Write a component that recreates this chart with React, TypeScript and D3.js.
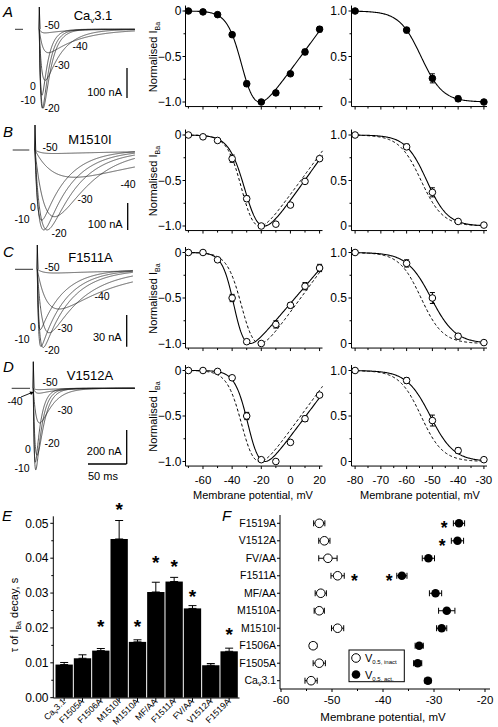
import React from "react";
import * as d3 from "d3";

// ================= DATA =================
// Panels A-D, I-V relations (normalised I_Ba)
const ivV = [-70, -60, -50, -40, -30, -20, -10, 0, 10, 20];
const ivCaV31 = [0, -0.01, -0.04, -0.26, -0.8, -1.0, -0.9, -0.69, -0.45, -0.2];
const ivCaV31Err = [0, 0, 0.01, 0.02, 0.03, 0, 0.02, 0.02, 0.03, 0.03];
const ivM1510I = [0, -0.02, -0.06, -0.26, -0.7, -1.0, -0.98, -0.77, -0.51, -0.26];
const ivM1510IErr = [0, 0, 0.01, 0.04, 0.03, 0, 0.01, 0.01, 0.02, 0.02];
const ivF1511A = [0, 0, -0.08, -0.5, -0.98, -1.0, -0.79, -0.58, -0.37, -0.17];
const ivF1511AErr = [0, 0, 0.01, 0.04, 0.02, 0.01, 0.04, 0.03, 0.04, 0.04];
const ivV1512A = [0, 0, -0.01, -0.08, -0.5, -0.98, -1.0, -0.79, -0.53, -0.27];
const ivV1512AErr = [0, 0, 0.01, 0.02, 0.04, 0.02, 0.02, 0.02, 0.03, 0.02];

// steady-state inactivation
const inV = [-80, -60, -50, -40, -30];
const inCaV31 = [1, 0.79, 0.26, 0.035, 0.0];
const inCaV31Err = [0, 0.03, 0.05, 0.03, 0.01];
const inM1510I = [1, 0.87, 0.37, 0.05, 0.01];
const inM1510IErr = [0, 0.03, 0.05, 0.02, 0.01];
const inF1511A = [1, 0.88, 0.5, 0.08, 0.01];
const inF1511AErr = [0, 0.04, 0.06, 0.03, 0.01];
const inV1512A = [1, 0.89, 0.45, 0.12, 0.02];
const inV1512AErr = [0, 0.03, 0.06, 0.03, 0.01];

// Boltzmann fit parameters [CaV3.1, M1510I, F1511A, V1512A]
const actVhalf = [-32, -29.5, -38, -28];
const actSlope = [5, 5.5, 4, 4.5];
const actErev = [30, 32, 30, 34];
const inactVhalf = [-54.4, -52.2, -50.5, -50.8];
const inactSlope = [4.22, 4.11, 4.7, 4.6];

// Current traces: test potentials, peak amplitude (nA), activation & decay time constants (ms)
const traceV = ["-50", "-40", "-30", "-20", "-10", "0"];
const trAmpCaV31 = [12, 78, 170, 263, 263, 220];
const trRiseCaV31 = [3, 5, 3.5, 2.8, 2.1, 1.8];
const trDecayCaV31 = [30, 40, 22, 10, 9, 8];
const trAmpM1510I = [13, 101, 247, 296, 296, 260];
const trRiseM1510I = [8, 30, 17, 8, 5, 3.5];
const trDecayM1510I = [150, 100, 40, 38, 35, 32];
const trAmpF1511A = [3.5, 37.6, 60, 74, 73, 57];
const trRiseF1511A = [8, 14, 7, 2.8, 1.5, 1.2];
const trDecayF1511A = [120, 70, 45, 35, 32, 30];
const trAmpV1512A = [8, 29, 204, 394, 480, 435];
const trRiseV1512A = [3, 3, 5, 3, 1.6, 1.3];
const trDecayV1512A = [30, 25, 15, 9, 8, 7];
const scaleBarNA = [100, 100, 30, 200];
const scaleBarMs = 50;

// Panel E: tau of I_Ba decay
const mutants = ["CaV3.1", "F1505A", "F1506A", "M1510I", "M1510A", "MF/AA", "F1511A", "FV/AA", "V1512A", "F1519A"];
const tauDecay = [0.0095, 0.0113, 0.0135, 0.0455, 0.016, 0.0303, 0.0333, 0.0256, 0.0093, 0.0133];
const tauErr = [0.0006, 0.001, 0.0006, 0.0053, 0.0006, 0.0028, 0.0012, 0.0008, 0.0005, 0.0009];
const tauStar = [null, null, 0.0216, 0.0553, 0.0216, 0.04, 0.039, 0.0304, null, 0.0194];

// Panel F: V0.5 (mV), same order as mutants (bottom to top)
const vInact = [-54.1, -52.5, -53.7, -48.9, -52.5, -52.2, -48.9, -50.8, -51.5, -52.5];
const vInactErr = [1.2, 1.2, 0.7, 1.2, 1.0, 1.1, 1.3, 1.8, 1.1, 1.1];
const vAct = [-31.2, -33.2, -32.9, -28.5, -27.5, -29.7, -36.3, -31.1, -25.4, -25.1];
const vActErr = [0.6, 0.8, 0.8, 1.0, 1.6, 1.2, 1.0, 1.2, 1.2, 1.1];
const fStarCat = ["F1519A", "V1512A", "F1511A", "F1511A"];
const fStarV = [-28.0, -28.4, -45.6, -38.8];

// ================= LAYOUT / STYLE =================
const FONT = "'Liberation Sans', Arial, Helvetica, sans-serif";
const ROW_Y0 = [11, 135, 252.5, 370.5];
const ivData = [ivCaV31, ivM1510I, ivF1511A, ivV1512A];
const ivErrs = [ivCaV31Err, ivM1510IErr, ivF1511AErr, ivV1512AErr];
const inData = [inCaV31, inM1510I, inF1511A, inV1512A];
const inErrs = [inCaV31Err, inM1510IErr, inF1511AErr, inV1512AErr];
const trAmps = [trAmpCaV31, trAmpM1510I, trAmpF1511A, trAmpV1512A];
const trRises = [trRiseCaV31, trRiseM1510I, trRiseF1511A, trRiseV1512A];
const trDecays = [trDecayCaV31, trDecayM1510I, trDecayF1511A, trDecayV1512A];

const TRACE_LAYOUT = [
  { base: 29.3, spikeX: 39.3, spikeTop: 7, dash: [15, 23], barX: 127, barTop: 68, barBottom: 98, end: 135, barText: 96 },
  { base: 150, spikeX: 35, spikeTop: 125, dash: [12.7, 29.3], barX: 127.7, barTop: 203, barBottom: 230, end: 135, barText: 228 },
  { base: 269.3, spikeX: 37.3, spikeTop: 245, dash: [15, 33], barX: 126.7, barTop: 315, barBottom: 346.7, end: 133, barText: 341 },
  { base: 388.3, spikeX: 33.3, spikeTop: 361.7, dash: [11.7, 30], barX: 126.7, barTop: 430, barBottom: 464, end: 135, barText: 455 },
];
const TRACE_LABEL_POS = [
  [[52, 25], [80, 46], [62, 65], [52, 108], [28, 100], [33, 86]],
  [[50, 147], [128, 184], [85, 199], [59, 233], [22, 219], [33, 207]],
  [[52, 267], [102, 296], [65, 328], [52, 350], [22, 339], [33, 327]],
  [[50, 382], [15, 401], [65, 410], [52, 443], [22, 468], [28, 449]],
];
const TITLE_POS = [[93, 19.5], [90, 143.8], [90.5, 261.5], [90, 379.5]];
const LETTER_Y = [17, 137, 257, 372];
const LETTERS = ["A", "B", "C", "D"];

const line = d3.line<[number, number]>().x((d) => d[0]).y((d) => d[1]);

function ivRaw(i: number, v: number) {
  const g = 1 / (1 + Math.exp((actVhalf[i] - v) / actSlope[i]));
  return (v - actErev[i]) * g;
}
function ivFitFn(i: number) {
  const g = d3.range(-80, 30, 0.1);
  const mn = d3.min(g, (v) => ivRaw(i, v)) as number;
  return (v: number) => ivRaw(i, v) / Math.abs(mn);
}
function inFitFn(i: number) {
  return (v: number) => 1 / (1 + Math.exp((v - inactVhalf[i]) / inactSlope[i]));
}

function Title({ i }: { i: number }) {
  const [x, y] = TITLE_POS[i];
  if (i === 0)
    return (
      <text x={x} y={y} textAnchor="middle" fontSize={13}>
        Ca<tspan dy={3} fontSize={8}>v</tspan>
        <tspan dy={-3}>3.1</tspan>
      </text>
    );
  return (
    <text x={x} y={y} textAnchor="middle" fontSize={13}>
      {["", "M1510I", "F1511A", "V1512A"][i]}
    </text>
  );
}

function Traces({ r }: { r: number }) {
  const L = TRACE_LAYOUT[r];
  const tx = d3.scaleLinear().domain([0, scaleBarMs]).range([L.spikeX, L.spikeX + 38.5]);
  const cy = d3.scaleLinear().domain([0, -scaleBarNA[r]]).range([L.base, L.base + (L.barBottom - L.barTop)]);
  const tEnd = tx.invert(L.end);
  const ts = d3.range(0.3, tEnd, 0.2);
  const paths = traceV.map((_, k) => {
    const tr = trRises[r][k], th = trDecays[r][k], amp = trAmps[r][k];
    const tp = (Math.log(th / tr) * th * tr) / (th - tr);
    const fmax = Math.exp(-tp / th) - Math.exp(-tp / tr);
    const pts: [number, number][] = ts.map((t) => [tx(t), cy((-amp * (Math.exp(-t / th) - Math.exp(-t / tr))) / fmax)]);
    return line([[L.spikeX, L.base], ...pts]) as string;
  });
  return (
    <g>
      <line x1={L.dash[0]} x2={L.dash[1]} y1={L.base} y2={L.base} stroke="#333" strokeWidth={1} />
      <path d={`M${L.spikeX - 0.4},${L.base} L${L.spikeX},${L.spikeTop} L${L.spikeX + 0.7},${L.base}`} stroke="#111" strokeWidth={1} fill="none" />
      {paths.map((d, k) => (
        <path key={k} d={d} fill="none" stroke="#222" strokeWidth={0.75} />
      ))}
      {traceV.map((lab, k) => (
        <text key={k} x={TRACE_LABEL_POS[r][k][0]} y={TRACE_LABEL_POS[r][k][1]} dy="0.35em" textAnchor="middle" fontSize={10.5}>
          {lab}
        </text>
      ))}
      <line x1={L.barX} x2={L.barX} y1={L.barTop} y2={L.barBottom} stroke="#000" strokeWidth={1.3} />
      <text x={L.barX - 5} y={L.barText} textAnchor="end" fontSize={11}>
        {scaleBarNA[r]} nA
      </text>
      {r === 3 && (
        <g>
          <line x1={tx(0) + (88 - L.spikeX)} x2={tx(scaleBarMs) + (88 - L.spikeX)} y1={L.barBottom} y2={L.barBottom} stroke="#000" strokeWidth={1.3} />
          <text x={88} y={480} fontSize={11}>
            {scaleBarMs} ms
          </text>
          <line x1={21} x2={32} y1={397} y2={392.5} stroke="#000" strokeWidth={0.9} />
          <path d="M34,392 L29.5,391.5 L31,395 Z" fill="#000" />
        </g>
      )}
    </g>
  );
}

function ErrBar({ x, y1, y2, w, horizontal }: { x: number; y1: number; y2: number; w: number; horizontal?: boolean }) {
  if (horizontal) {
    return (
      <g stroke="#000" strokeWidth={1}>
        <line x1={y1} x2={y2} y1={x} y2={x} />
        <line x1={y1} x2={y1} y1={x - w} y2={x + w} />
        <line x1={y2} x2={y2} y1={x - w} y2={x + w} />
      </g>
    );
  }
  return (
    <g stroke="#000" strokeWidth={1}>
      <line x1={x} x2={x} y1={y1} y2={y2} />
      <line x1={x - w} x2={x + w} y1={y1} y2={y1} />
      <line x1={x - w} x2={x + w} y1={y2} y2={y2} />
    </g>
  );
}

function IVPlot({ r }: { r: number }) {
  const y0 = ROW_Y0[r];
  const x = d3.scaleLinear().domain([-72, 22]).range([185.5, 322.5]);
  const y = d3.scaleLinear().domain([0, -1]).range([y0, y0 + 91]);
  const yb = y(-1.05);
  const x0 = x(-72);
  const grid = d3.range(-72, 22.01, 0.5);
  const fit = ivFitFn(r);
  const wt = ivFitFn(0);
  const solid = line(grid.map((v) => [x(v), y(fit(v))]));
  const dashed = line(grid.map((v) => [x(v), y(wt(v))]));
  const vals = ivData[r], errs = ivErrs[r];
  return (
    <g>
      <line x1={x0} x2={x(22)} y1={yb} y2={yb} stroke="#000" />
      <line x1={x0} x2={x0} y1={y(0.06)} y2={yb} stroke="#000" />
      {d3.range(-70, 21, 10).map((v) => (
        <line key={v} x1={x(v)} x2={x(v)} y1={yb} y2={yb + (v % 20 === 0 ? 3 : 2)} stroke="#000" />
      ))}
      {[0, -0.25, -0.5, -0.75, -1].map((v, i) => (
        <line key={v} x1={x0} x2={x0 - (i % 2 === 0 ? 3 : 2)} y1={y(v)} y2={y(v)} stroke="#000" />
      ))}
      {[0, -0.5, -1].map((v) => (
        <text key={v} x={181.5} y={y(v)} dy="0.35em" textAnchor="end" fontSize={12}>
          {v === 0 ? "0" : d3.format(".1f")(v)}
        </text>
      ))}
      {r > 0 && <path d={dashed as string} fill="none" stroke="#000" strokeWidth={1} strokeDasharray="3,2.2" />}
      <path d={solid as string} fill="none" stroke="#000" strokeWidth={1.1} />
      {ivV.map((v, k) =>
        errs[k] > 0 ? <ErrBar key={"e" + k} x={x(v)} y1={y(vals[k] - errs[k])} y2={y(vals[k] + errs[k])} w={2.5} /> : null
      )}
      {ivV.map((v, k) => (
        <circle key={k} cx={x(v)} cy={y(vals[k])} r={3.3} fill={r === 0 ? "#000" : "#fff"} stroke="#000" strokeWidth={1} />
      ))}
      <text transform={`translate(157,${y0 + 46}) rotate(-90)`} textAnchor="middle" fontSize={11}>
        Normalised I<tspan dy={3} fontSize={7}>Ba</tspan>
      </text>
      {r === 3 && (
        <g>
          {[-60, -40, -20, 0, 20].map((v) => (
            <text key={v} x={x(v)} y={484} textAnchor="middle" fontSize={11.5}>
              {v}
            </text>
          ))}
          <text x={253} y={499} textAnchor="middle" fontSize={11}>
            Membrane potential, mV
          </text>
        </g>
      )}
    </g>
  );
}

function InPlot({ r }: { r: number }) {
  const y0 = ROW_Y0[r];
  const x = d3.scaleLinear().domain([-81.4, -28.8]).range([351.5, 487]);
  const y = d3.scaleLinear().domain([1, 0]).range([y0, y0 + 91]);
  const yb = y(-0.05);
  const x0 = x(-81.4);
  const grid = d3.range(-81.4, -28.79, 0.3);
  const fit = inFitFn(r);
  const wt = inFitFn(0);
  const solid = line(grid.map((v) => [x(v), y(fit(v))]));
  const dashed = line(grid.map((v) => [x(v), y(wt(v))]));
  const vals = inData[r], errs = inErrs[r];
  return (
    <g>
      <line x1={x0} x2={x(-28.8)} y1={yb} y2={yb} stroke="#000" />
      <line x1={x0} x2={x0} y1={y(1.06)} y2={yb} stroke="#000" />
      {d3.range(-80, -29, 5).map((v) => (
        <line key={v} x1={x(v)} x2={x(v)} y1={yb} y2={yb + (v % 10 === 0 ? 3 : 2)} stroke="#000" />
      ))}
      {[0, 0.25, 0.5, 0.75, 1].map((v, i) => (
        <line key={v} x1={x0} x2={x0 - (i % 2 === 0 ? 3 : 2)} y1={y(v)} y2={y(v)} stroke="#000" />
      ))}
      {[0, 0.5, 1].map((v) => (
        <text key={v} x={347} y={y(v)} dy="0.35em" textAnchor="end" fontSize={12}>
          {v === 0 ? "0" : d3.format(".1f")(v)}
        </text>
      ))}
      {r > 0 && <path d={dashed as string} fill="none" stroke="#000" strokeWidth={1} strokeDasharray="3,2.2" />}
      <path d={solid as string} fill="none" stroke="#000" strokeWidth={1.1} />
      {inV.map((v, k) =>
        errs[k] > 0.015 ? <ErrBar key={"e" + k} x={x(v)} y1={y(vals[k] - errs[k])} y2={y(vals[k] + errs[k])} w={2.5} /> : null
      )}
      {inV.map((v, k) => (
        <circle key={k} cx={x(v)} cy={y(vals[k])} r={3.3} fill={r === 0 ? "#000" : "#fff"} stroke="#000" strokeWidth={1} />
      ))}
      {r === 3 && (
        <g>
          {d3.range(-80, -29, 10).map((v) => (
            <text key={v} x={x(v)} y={484} textAnchor="middle" fontSize={11.5}>
              {v}
            </text>
          ))}
          <text x={420} y={499} textAnchor="middle" fontSize={11}>
            Membrane potential, mV
          </text>
        </g>
      )}
    </g>
  );
}

function Star({ x, y, size = 19 }: { x: number; y: number; size?: number }) {
  // y is the visual centre of the asterisk
  return (
    <text x={x} y={y + size * 0.58} textAnchor="middle" fontSize={size} fontWeight="bold">
      *
    </text>
  );
}

function PanelE() {
  const x = d3.scaleBand().domain(mutants).range([55, 238.3]).padding(0);
  const y = d3.scaleLinear().domain([0, 0.05]).range([697.7, 523.3]);
  const bw = x.bandwidth();
  return (
    <g>
      <text x={2} y={521} fontSize={15} fontStyle="italic">E</text>
      {mutants.map((m, i) => {
        const cx = (x(m) as number) + bw / 2;
        return (
          <g key={m}>
            <ErrBar x={cx} y1={y(tauDecay[i])} y2={y(tauDecay[i] + tauErr[i])} w={4} />
            <rect x={(x(m) as number) + 0.5} y={y(tauDecay[i])} width={bw - 1} height={y(0) - y(tauDecay[i])} fill="#000" />
            {tauStar[i] !== null && <Star x={cx} y={y(tauStar[i] as number)} />}
          </g>
        );
      })}
      <line x1={53.3} x2={53.3} y1={y(0.052)} y2={698} stroke="#000" />
      <line x1={53.3} x2={239.5} y1={698} y2={698} stroke="#000" />
      {d3.range(0, 0.0501, 0.005).map((v, i) => (
        <line key={i} x1={53.3} x2={53.3 - (i % 2 === 0 ? 3 : 2)} y1={y(v)} y2={y(v)} stroke="#000" />
      ))}
      {d3.range(0, 0.0501, 0.01).map((v, i) => (
        <text key={i} x={48.5} y={y(v)} dy="0.35em" textAnchor="end" fontSize={12}>
          {d3.format(".2f")(v)}
        </text>
      ))}
      {mutants.map((m) => {
        const cx = (x(m) as number) + bw / 2;
        return (
          <g key={"t" + m}>
            <line x1={cx} x2={cx} y1={698} y2={701} stroke="#000" />
            <text transform={`translate(${cx + 2},${702}) rotate(-45)`} textAnchor="end" fontSize={8.8}>
              {m === "CaV3.1" ? (
                <>
                  Ca<tspan dy={2} fontSize={6}>v</tspan>
                  <tspan dy={-2}>3.1</tspan>
                </>
              ) : (
                m
              )}
            </text>
          </g>
        );
      })}
      <text transform="translate(18,615) rotate(-90)" textAnchor="middle" fontSize={11}>
        τ of I<tspan dy={3} fontSize={7}>Ba</tspan>
        <tspan dy={-3}> decay, s</tspan>
      </text>
    </g>
  );
}

function PanelF() {
  const x = d3.scaleLinear().domain([-60, -20]).range([281, 485]);
  const y = d3.scalePoint().domain(mutants).range([680.7, 523.3]);
  const ax = 280;
  return (
    <g>
      <text x={222} y={521} fontSize={15} fontStyle="italic">F</text>
      <line x1={ax} x2={ax} y1={515} y2={689} stroke="#000" />
      <line x1={ax} x2={490} y1={689} y2={689} stroke="#000" />
      {d3.range(-60, -19, 5).map((v) => (
        <line key={v} x1={x(v)} x2={x(v)} y1={689} y2={689 + (v % 10 === 0 ? 3 : 2)} stroke="#000" />
      ))}
      {d3.range(-60, -19, 10).map((v) => (
        <text key={v} x={x(v)} y={704} textAnchor="middle" fontSize={11.5}>
          {v}
        </text>
      ))}
      <text x={x(-40)} y={721} textAnchor="middle" fontSize={11.5}>
        Membrane potential, mV
      </text>
      {mutants.map((m, i) => {
        const cy = y(m) as number;
        return (
          <g key={m}>
            <line x1={ax} x2={ax - 3} y1={cy} y2={cy} stroke="#000" />
            <text x={ax - 4} y={cy} dy="0.35em" textAnchor="end" fontSize={10.5}>
              {m === "CaV3.1" ? (
                <>
                  Ca<tspan dy={2} fontSize={7}>v</tspan>
                  <tspan dy={-2}>3.1</tspan>
                </>
              ) : (
                m
              )}
            </text>
            <ErrBar x={cy} y1={x(vInact[i] - vInactErr[i])} y2={x(vInact[i] + vInactErr[i])} w={3} horizontal />
            <ErrBar x={cy} y1={x(vAct[i] - vActErr[i])} y2={x(vAct[i] + vActErr[i])} w={3} horizontal />
            <circle cx={x(vInact[i])} cy={cy} r={4.3} fill="#fff" stroke="#000" strokeWidth={1} />
            <circle cx={x(vAct[i])} cy={cy} r={4.3} fill="#000" />
          </g>
        );
      })}
      {fStarCat.map((c, k) => (
        <Star key={k} x={x(fStarV[k])} y={(y(c) as number) + 1} size={17.5} />
      ))}
      <rect x={349} y={650} width={55.3} height={31.7} fill="#fff" stroke="#000" strokeWidth={1} />
      <circle cx={356} cy={658} r={4.3} fill="#fff" stroke="#000" />
      <circle cx={356} cy={674.5} r={4.3} fill="#000" />
      <text x={365} y={662} fontSize={11}>
        V<tspan dy={2} fontSize={6}>0.5, inact</tspan>
      </text>
      <text x={365} y={678.5} fontSize={11}>
        V<tspan dy={2} fontSize={6}>0.5, act.</tspan>
      </text>
    </g>
  );
}

export default function App() {
  return (
    <svg width={498} height={727} style={{ position: "absolute", left: 0, top: 0, background: "#fff" }} fontFamily={FONT}>
      <rect width={498} height={727} fill="#fff" />
      {[0, 1, 2, 3].map((r) => (
        <g key={r}>
          <text x={3} y={LETTER_Y[r]} fontSize={15} fontStyle="italic">
            {LETTERS[r]}
          </text>
          <Title i={r} />
          <Traces r={r} />
          <IVPlot r={r} />
          <InPlot r={r} />
        </g>
      ))}
      <PanelE />
      <PanelF />
    </svg>
  );
}
